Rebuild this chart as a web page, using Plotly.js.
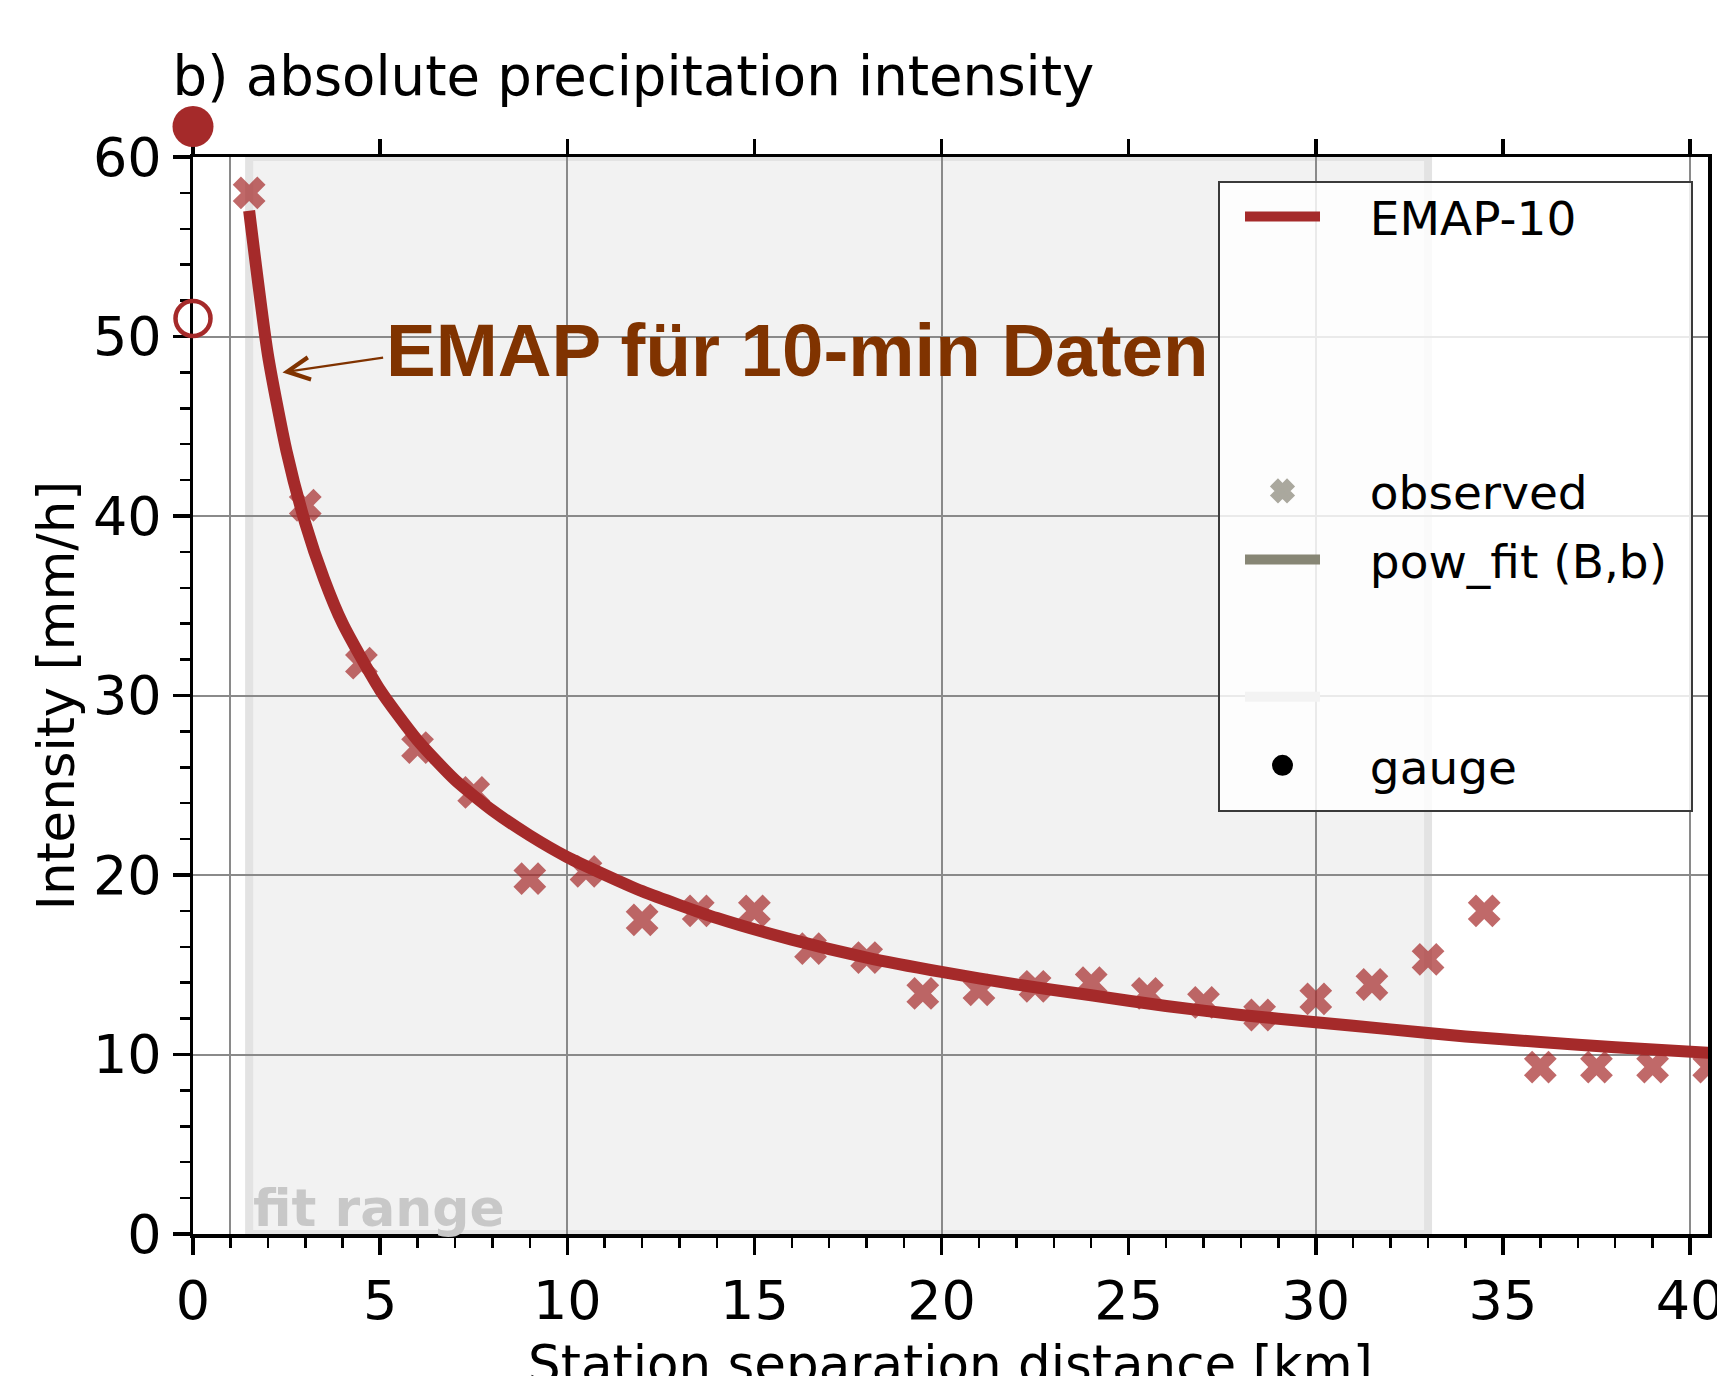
<!DOCTYPE html>
<html>
<head>
<meta charset="utf-8">
<script src="https://cdn.plot.ly/plotly-3.0.1.min.js"></script>
<style>
html,body{margin:0;padding:0;background:#fff;}
#chart{width:1717px;height:1376px;}
</style>
</head>
<body>
<div id="chart"></div>
<script>
// ---- data ----
const obsDist = [1.5, 3.0, 4.5, 6.0, 7.5, 9.0, 10.5, 12.0, 13.5, 15.0, 16.5, 18.0, 19.5, 21.0,
                 22.5, 24.0, 25.5, 27.0, 28.5, 30.0, 31.5, 33.0, 34.5, 36.0, 37.5, 39.0, 40.5];
const obsIntensity = [58.0, 40.6, 31.8, 27.1, 24.6, 19.8, 20.2, 17.5, 18.0, 18.0, 15.9, 15.4, 13.4, 13.6,
                      13.8, 14.0, 13.4, 12.9, 12.2, 13.1, 13.9, 15.3, 18.0, 9.3, 9.3, 9.3, 9.3];
const fitDist = [1.5, 2.0, 2.5, 3.0, 3.5, 4.0, 5.0, 6.0, 7.0, 8.0, 9.0, 10.0, 12.0, 14.0, 16.0,
                 18.0, 20.0, 22.0, 24.0, 26.0, 28.0, 30.0, 32.0, 34.0, 36.0, 38.0, 40.5];
const fitIntensity = [57.0, 49.0, 43.6, 39.6, 36.5, 34.0, 30.3, 27.5, 25.3, 23.6, 22.2, 21.0, 19.1, 17.6, 16.4,
                      15.4, 14.6, 13.9, 13.3, 12.7, 12.2, 11.8, 11.4, 11.0, 10.7, 10.4, 10.1];
const gaugeFilledDist = [0];
const gaugeFilledIntensity = [61.7];
const gaugeOpenDist = [0];
const gaugeOpenIntensity = [51.0];
const fitRange = [1.5, 33.0];
const gridDist = [1, 10, 20, 30, 40];
const xTickVals = [0, 5, 10, 15, 20, 25, 30, 35, 40];
const yTickVals = [0, 10, 20, 30, 40, 50, 60];
const xRange = [0, 40.48];
const yRange = [0, 60];
const labels = {
  title: 'b) absolute precipitation intensity',
  xTitle: 'Station separation distance [km]',
  yTitle: 'Intensity [mm/h]',
  note: 'EMAP für 10-min Daten',
  fitRange: 'fit range',
  emap: 'EMAP-10', observed: 'observed', powfit: 'pow_fit (B,b)', gauge: 'gauge'
};
const noteArrow = {headX: 2.39, headY: 48.0, tailX: 5.12, tailY: 48.84, textX: 5.1, textY: 49.2};

// ---- geometry / styling ----
const FONT = 'DejaVu Sans, sans-serif';
const BROWN = 'rgb(165,42,42)';
const NOTE = '#803300';
const GRID = '#8a8a8a';
const GAP = '\u00a0\u00a0\u00a0';
const BLANK = '\u00a0';
const PAPER_TOP = 100, PLOT_TOP = 157, PLOT_BOTTOM = 1234, PLOT_LEFT = 193, PLOT_RIGHT = 1708;
const paperH = PLOT_BOTTOM - PAPER_TOP, paperW = PLOT_RIGHT - PLOT_LEFT;
const py = px => (PLOT_BOTTOM - px) / paperH;
const pxX = px => (px - PLOT_LEFT) / paperW;
const yDomTop = py(PLOT_TOP);

function legendItem(i, name, extra) {
  return Object.assign({x: [null], y: [null], type: 'scatter', name: name, legendgroup: 'g' + i,
                        hoverinfo: 'skip'}, extra);
}
const blankLine = (i, color) => legendItem(i, BLANK, {mode: 'lines', line: {color: color || 'rgba(0,0,0,0)', width: 12}});

const traces = [
  {x: obsDist, y: obsIntensity, type: 'scatter', mode: 'markers', name: labels.observed, showlegend: false,
   marker: {symbol: 'x', size: 29, color: 'rgba(165,42,42,0.7)', line: {width: 0}}},
  {x: fitDist, y: fitIntensity, type: 'scatter', mode: 'lines', name: GAP + labels.emap, legendgroup: 'g1',
   line: {color: BROWN, width: 12, shape: 'spline', smoothing: 0.6}},
  blankLine(2), blankLine(3), blankLine(4),
  legendItem(5, GAP + labels.observed, {mode: 'markers',
   marker: {symbol: 'x', size: 16, color: '#aaa89e', line: {width: 5, color: '#aaa89e'}}}),
  legendItem(6, GAP + labels.powfit, {mode: 'lines', line: {color: '#878675', width: 14}}),
  blankLine(7), blankLine(8, '#f3f3f3'),
  legendItem(9, GAP + labels.gauge, {mode: 'markers',
   marker: {symbol: 'circle', size: 16, color: 'black', line: {width: 5, color: 'black'}}}),
  // helper traces so the overlay axes (top ticks, grid) are built
  {x: [null], y: [null], xaxis: 'x2', yaxis: 'y', type: 'scatter', mode: 'markers', showlegend: false, hoverinfo: 'skip'},
  {x: [null], y: [null], xaxis: 'x3', yaxis: 'y', type: 'scatter', mode: 'markers', showlegend: false, hoverinfo: 'skip'},
  // gauge points (drawn on an unclipped twin scale that reaches above the frame)
  {x: gaugeFilledDist, y: gaugeFilledIntensity, xaxis: 'x', yaxis: 'y2', type: 'scatter', mode: 'markers',
   showlegend: false, name: labels.gauge, cliponaxis: false, marker: {symbol: 'circle', size: 41, color: BROWN}},
  {x: gaugeOpenDist, y: gaugeOpenIntensity, xaxis: 'x', yaxis: 'y2', type: 'scatter', mode: 'markers',
   showlegend: false, name: labels.gauge, cliponaxis: false,
   marker: {symbol: 'circle-open', size: 35, color: BROWN, line: {width: 4.5, color: BROWN}}}
];

const tickFont = {family: FONT, size: 54, color: 'black'};

const layout = {
  width: 1717, height: 1376,
  margin: {l: PLOT_LEFT, r: 1717 - PLOT_RIGHT, t: PAPER_TOP, b: 1376 - PLOT_BOTTOM, pad: 0},
  paper_bgcolor: 'white', plot_bgcolor: 'rgba(0,0,0,0)',
  showlegend: true,
  title: {text: labels.title, font: {family: FONT, size: 54.5, color: 'black'},
          xref: 'container', x: 0.1005, xanchor: 'left', yref: 'container', y: 0.945, yanchor: 'middle'},
  xaxis: {
    range: xRange, tickmode: 'array', tickvals: xTickVals, ticks: 'outside', ticklen: 17, tickwidth: 3.5,
    tickcolor: 'black', tickfont: tickFont, showgrid: false, zeroline: false, ticklabeloverflow: 'allow',
    showline: true, linecolor: 'black', linewidth: 3.5, mirror: true, anchor: 'y',
    minor: {dtick: 1, tick0: 0, ticks: 'outside', ticklen: 10, tickwidth: 2.5, tickcolor: 'black', showgrid: false},
    automargin: false
  },
  xaxis2: {
    overlaying: 'x', side: 'top', anchor: 'y', range: xRange, tickmode: 'array', tickvals: xTickVals,
    ticks: 'outside', ticklen: 17, tickwidth: 3.5, tickcolor: 'black', showticklabels: false,
    showgrid: false, zeroline: false, showline: false
  },
  xaxis3: {
    overlaying: 'x', side: 'bottom', anchor: 'y', range: xRange, tickmode: 'array', tickvals: gridDist,
    ticks: '', showticklabels: false, showgrid: true, gridcolor: GRID, gridwidth: 2,
    zeroline: false, showline: false
  },
  yaxis: {
    domain: [0, yDomTop], anchor: 'x',
    range: yRange, tickmode: 'array', tickvals: yTickVals, ticks: 'outside', ticklen: 17, tickwidth: 3.5,
    tickcolor: 'black', tickfont: tickFont, showgrid: true, gridcolor: GRID, gridwidth: 2, zeroline: false,
    showline: true, linecolor: 'black', linewidth: 3.5, mirror: true,
    minor: {dtick: 2, tick0: 0, ticks: 'outside', ticklen: 10, tickwidth: 2.5, tickcolor: 'black', showgrid: false},
    title: {text: labels.yTitle, font: {family: FONT, size: 51.3, color: 'black'}, standoff: 3},
    automargin: 'top'
  },
  yaxis2: {
    domain: [0, 1], anchor: 'x', range: [yRange[0], yRange[1] / yDomTop], visible: false,
    showgrid: false, zeroline: false
  },
  legend: {
    x: pxX(1240), y: py(179.5), xanchor: 'left', yanchor: 'top',
    bgcolor: 'rgba(0,0,0,0)', borderwidth: 0, itemwidth: 75, tracegroupgap: 4.5,
    font: {family: FONT, size: 47, color: 'black'}, itemclick: false
  },
  shapes: [
    {type: 'rect', xref: 'x', yref: 'y', x0: fitRange[0], x1: fitRange[1], y0: yRange[0], y1: yRange[1],
     fillcolor: '#f2f2f2', line: {color: '#e3e3e3', width: 8}, layer: 'below'},
    {type: 'rect', xref: 'paper', yref: 'paper', x0: pxX(1219), x1: pxX(1692), y0: py(811), y1: py(182),
     fillcolor: 'rgba(255,255,255,0.82)', line: {color: '#3a3a3a', width: 2}, layer: 'above'}
  ],
  annotations: [
    {x: noteArrow.headX, y: noteArrow.headY, ax: noteArrow.tailX, ay: noteArrow.tailY, axref: 'x', ayref: 'y',
     xref: 'x', yref: 'y', text: '', showarrow: true,
     arrowhead: 5, arrowsize: 2.0, arrowwidth: 2.2, arrowcolor: NOTE, standoff: 0, startstandoff: 0,
     font: {size: 1, color: NOTE}},
    {x: noteArrow.textX, y: noteArrow.textY, xref: 'x', yref: 'y', xanchor: 'left', yanchor: 'middle',
     text: '<b>' + labels.note + '</b>', showarrow: false,
     font: {family: 'Liberation Sans, Arial, sans-serif', size: 74.5, color: NOTE}},
    {x: fitRange[0], y: yRange[0], xref: 'x', yref: 'y', xanchor: 'left', yanchor: 'bottom', xshift: 2, yshift: -6,
     text: '<b>' + labels.fitRange + '</b>', showarrow: false,
     font: {family: FONT, size: 52, color: '#c8c8c8'}},
    // x-axis title, placed like the reference (its lower part runs past the picture edge)
    {x: 0.5, y: py(1332), xref: 'paper', yref: 'paper', xanchor: 'center', yanchor: 'top',
     text: labels.xTitle, showarrow: false, font: {family: FONT, size: 51.5, color: 'black'}}
  ]
};

Plotly.newPlot('chart', traces, layout, {displayModeBar: false, staticPlot: true});
</script>
</body>
</html>
